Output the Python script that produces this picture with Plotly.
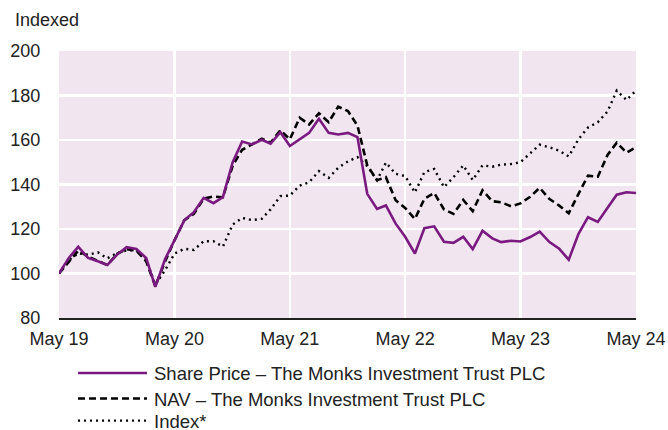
import plotly.graph_objects as go
import pandas as pd

dates = pd.date_range("2019-05-01", periods=61, freq="MS")

share_price = [100, 107, 112, 107, 105.5, 103.8, 108.5, 111.8, 111, 107, 94, 106.5,
               115, 124, 127.5, 134, 131.6, 134.3, 150, 159.3, 158, 160.1, 158.3, 163.5,
               157.3, 160.5, 163.2, 169.5, 163.2, 162.5, 163.2, 161.3, 135.8, 129, 130.6, 122.4,
               116.5, 109, 120.4, 121.2, 114.3, 113.8, 116.5, 111, 119.2, 115.8, 114.1, 114.7,
               114.4, 116.4, 118.8, 114.1, 111.1, 106.2, 117.8, 125.3, 123.2, 129.6, 135.4, 136.5, 136.2]

nav = [100, 105.5, 110.3, 107.6, 105.5, 103.8, 108.8, 110.9, 110.3, 105.5, 94.3, 105.5,
       115, 124, 126.8, 133.6, 134.6, 134.3, 148.5, 155.6, 158, 160.6, 158.8, 164.4,
       160.3, 170, 167, 172, 168, 175, 173, 166.5, 148.6, 141.9, 143.3, 132.9,
       129.5, 124.5, 133.6, 136.2, 128.8, 126.8, 133.1, 128, 137.4, 132.5, 132, 130.2,
       131.5, 134.5, 138.5, 133.5, 130.5, 127.1, 135.8, 144, 143.5, 153.3, 158.8, 154.3, 156.7]

index = [100, 106, 109.1, 108.4, 109.5, 106.8, 109.2, 110.4, 110.5, 106.3, 95, 101.5,
         109, 111.1, 110.6, 114.5, 114.5, 112.1, 122, 125, 124, 124.6, 128.8, 134.8,
         135, 139.5, 141, 146, 143, 147.5, 150.4, 152.3, 148.3, 141.9, 149.8, 144.8,
         143.8, 136.4, 145.6, 147, 138.8, 143.3, 148.6, 142, 148.6, 148, 148.9, 149.2,
         150, 153.8, 157.9, 156.7, 155.2, 152.6, 160.4, 165.6, 168, 172.8, 182.2, 178, 182.2]

tick_dates = ["2019-05-01", "2020-05-01", "2021-05-01", "2022-05-01", "2023-05-01", "2024-05-01"]
tick_labels = ["May 19", "May 20", "May 21", "May 22", "May 23", "May 24"]
y_ticks = [80, 100, 120, 140, 160, 180, 200]

series_names = ["Share Price – The Monks Investment Trust PLC",
                "NAV – The Monks Investment Trust PLC",
                "Index*"]

PURPLE = "#7A1A80"
BG = "#F1E6F0"
FONT = "Liberation Sans, Arial, Helvetica, sans-serif"

styles = [
    dict(color=PURPLE, width=2.6, dash="solid"),
    dict(color="#000000", width=2.6, dash="7px,4px"),
    dict(color="#000000", width=2.4, dash="2px,4px"),
]

fig = go.Figure()
order = [(2, index), (1, nav), (0, share_price)]
for i, vals in order:
    fig.add_trace(go.Scatter(x=dates, y=vals, mode="lines", name=series_names[i],
                             line=styles[i], showlegend=False, hoverinfo="skip"))

# manual legend
row_y = [-0.206, -0.3015, -0.3845]
for i in range(3):
    fig.add_shape(type="line", xref="paper", yref="paper",
                  x0=0.033, x1=0.1525, y0=row_y[i], y1=row_y[i],
                  line=styles[i])
    fig.add_annotation(x=0.163, y=row_y[i], xref="paper", yref="paper",
                       text=series_names[i], showarrow=False,
                       xanchor="left", yanchor="middle", height=20, borderpad=0,
                       font=dict(size=18.5, color="#222222", family=FONT))

fig.add_annotation(x=-0.08, y=1.115, xref="paper", yref="paper",
                   text="Indexed", showarrow=False, xanchor="left", yanchor="middle",
                   font=dict(size=18, color="#222222", family=FONT))

fig.update_layout(
    width=668, height=430,
    margin=dict(l=59, r=32, t=51, b=112, autoexpand=False),
    paper_bgcolor="white", plot_bgcolor=BG,
    font=dict(family=FONT, size=18, color="#222222"),
    xaxis=dict(range=[dates[0], dates[-1]], tickvals=tick_dates, ticktext=tick_labels,
               showgrid=True, gridcolor="white", gridwidth=2.5,
               showline=True, linecolor="#222222", linewidth=1.6,
               ticks="outside", ticklen=4, tickcolor="rgba(0,0,0,0)",
               zeroline=False, tickfont=dict(size=18), automargin=False),
    yaxis=dict(range=[80, 200], tickvals=y_ticks,
               showgrid=True, gridcolor="white", gridwidth=2.5,
               showline=False, zeroline=False,
               ticks="outside", ticklen=14, tickcolor="rgba(0,0,0,0)",
               tickfont=dict(size=18), automargin=False),
)

fig.write_html("out.html",
               config={"displayModeBar": False, "staticPlot": True},
               post_script="document.body.style.margin='0';document.body.style.overflow='hidden';"
                           "document.documentElement.style.overflow='hidden';")
